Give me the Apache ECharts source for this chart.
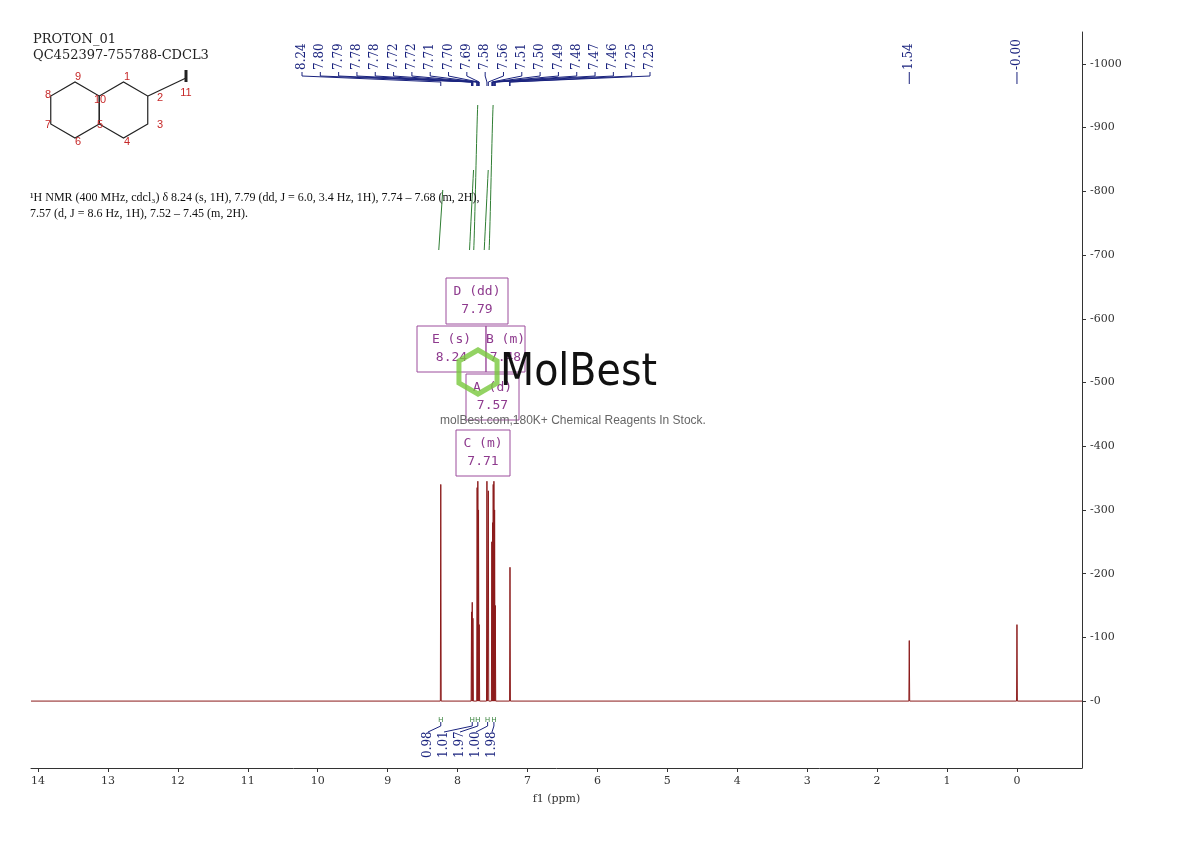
<!DOCTYPE html>
<html><head><meta charset="utf-8">
<script src="https://cdn.jsdelivr.net/npm/echarts@6/dist/echarts.min.js"></script>
<style>html,body{margin:0;padding:0;background:#fff}#c{width:1190px;height:841px}</style>
</head><body><div id="c"></div>
<script>
const peakPpm = [8.24,7.80,7.79,7.78,7.72,7.71,7.70,7.69,7.58,7.56,7.51,7.50,7.49,7.48,7.47,7.46,7.25,1.54,0.00];
const peakHeight = [340,140,155,130,335,345,300,120,345,330,250,280,340,345,300,150,210,95,120];
const labelTexts = ['8.24','7.80','7.79','7.78','7.78','7.72','7.72','7.71','7.70','7.69','7.58','7.56','7.51','7.50','7.49','7.48','7.47','7.46','7.25','7.25'];
const labelPpm = [8.24,7.80,7.79,7.785,7.78,7.725,7.72,7.71,7.70,7.69,7.58,7.56,7.51,7.50,7.49,7.48,7.47,7.46,7.255,7.25];
const singleLabels = ['1.54','-0.00'];
const singlePpm = [1.54,0.00];
const xTicks = [0,1,2,3,4,5,6,7,8,9,10,11,12,13,14];
const yTicks = [0,100,200,300,400,500,600,700,800,900,1000];
const integrals = ['0.98','1.01','1.97','1.00','1.98'];
const integralPpm = [8.24,7.79,7.71,7.57,7.48];

const pts = [[14.1,0]];
const order = peakPpm.map((p,i)=>[p,peakHeight[i]]).sort((a,b)=>b[0]-a[0]);
order.forEach(([p,h])=>{pts.push([p+0.006,0]);pts.push([p,h]);pts.push([p-0.006,0]);});
pts.push([-0.93,0]);

const chart = echarts.init(document.getElementById('c'));
const serif = 'DejaVu Serif';
chart.setOption({
  animation:false,
  grid:{left:31,right:108,top:32,bottom:73},
  xAxis:{type:'value',inverse:true,min:-0.93,max:14.1,
    name:'f1 (ppm)',nameLocation:'middle',nameGap:26,nameTextStyle:{fontFamily:serif,fontSize:11,color:'#333'},
    axisLine:{onZero:false,lineStyle:{color:'#333'}},splitLine:{show:false},
    axisTick:{customValues:xTicks,length:4,lineStyle:{color:'#333'}},
    axisLabel:{customValues:xTicks,fontFamily:serif,fontSize:11,color:'#333'}},
  yAxis:{type:'value',position:'right',min:-105,max:1050,
    axisLine:{show:true,onZero:false,lineStyle:{color:'#333'}},splitLine:{show:false},
    axisTick:{customValues:yTicks,length:4,lineStyle:{color:'#333'}},
    axisLabel:{customValues:yTicks,fontFamily:serif,fontSize:11,color:'#333',formatter:v=>'-'+v}},
  series:[{type:'line',data:pts,symbol:'none',lineStyle:{color:'#8b1a1a',width:1}}]
});

const g = [];
const px = (p,v)=>chart.convertToPixel({xAxisIndex:0,yAxisIndex:0},[p,v]);
const blue = '#1a237e';
const x0=302, dx=(650-302)/(labelTexts.length-1);
labelTexts.forEach((t,i)=>{
  const lx=x0+i*dx, tx=px(labelPpm[i],0)[0];
  g.push({type:'text',x:lx,y:70,rotation:Math.PI/2,style:{text:t,fontFamily:serif,fontSize:12,fill:blue,align:'left',verticalAlign:'middle'}});
  g.push({type:'polyline',shape:{points:[[lx,72],[lx,76],[tx,82],[tx,86]]},style:{stroke:blue,lineWidth:1,fill:null}});
});
singleLabels.forEach((t,i)=>{
  const lx=px(singlePpm[i],0)[0];
  g.push({type:'text',x:lx,y:70,rotation:Math.PI/2,style:{text:t,fontFamily:serif,fontSize:12,fill:blue,align:'left',verticalAlign:'middle'}});
  g.push({type:'line',shape:{x1:lx,y1:72,x2:lx,y2:84},style:{stroke:blue,lineWidth:1}});
});
integrals.forEach((t,i)=>{
  const lx=428+i*16, tx=px(integralPpm[i],0)[0];
  g.push({type:'text',x:lx,y:758,rotation:Math.PI/2,style:{text:t,fontFamily:serif,fontSize:12,fill:blue,align:'left',verticalAlign:'middle'}});
  g.push({type:'polyline',shape:{points:[[lx,732],[tx,726],[tx,722]]},style:{stroke:blue,lineWidth:1,fill:null}});
  g.push({type:'text',x:tx,y:720,style:{text:'H',fontSize:7,fill:'#2e7d32',align:'center',verticalAlign:'middle'}});
});
[[8.24,250,190],[7.80,250,170],[7.74,250,105],[7.59,250,170],[7.52,250,105]].forEach(([p,y1,y2])=>{
  const x=px(p,0)[0];
  g.push({type:'bezierCurve',shape:{x1:x-2,y1:y1,x2:x+2,y2:y2,cpx1:x-1,cpy1:y1-20,cpx2:x+1,cpy2:y2+20},style:{stroke:'#2e7d32',lineWidth:1,fill:null}});
});
g.push({type:'text',x:33,y:32,style:{text:'PROTON_01\nQC452397-755788-CDCL3',fontFamily:serif,fontSize:13,fill:'#222',lineHeight:16}});
g.push({type:'text',x:30,y:190,style:{text:'¹H NMR (400 MHz, cdcl₃) δ 8.24 (s, 1H), 7.79 (dd, J = 6.0, 3.4 Hz, 1H), 7.74 – 7.68 (m, 2H),\n7.57 (d, J = 8.6 Hz, 1H), 7.52 – 7.45 (m, 2H).',fontFamily:'Liberation Serif',fontSize:12,fill:'#111',lineHeight:16}});
const hex=(cx,cy,r)=>{const a=[];for(let k=0;k<6;k++){const t=Math.PI/6+k*Math.PI/3;a.push([cx+r*Math.cos(t),cy+r*Math.sin(t)]);}return a;};
g.push({type:'polygon',shape:{points:hex(75,110,28)},style:{stroke:'#222',fill:null,lineWidth:1.2}});
g.push({type:'polygon',shape:{points:hex(123.5,110,28)},style:{stroke:'#222',fill:null,lineWidth:1.2}});
g.push({type:'line',shape:{x1:148,y1:96,x2:186,y2:78},style:{stroke:'#222',lineWidth:1.2}});
g.push({type:'line',shape:{x1:186,y1:70,x2:186,y2:82},style:{stroke:'#222',lineWidth:3}});
[['9',78,77],['8',48,95],['7',48,125],['6',78,142],['10',100,100],['5',100,125],['1',127,77],['2',160,98],['3',160,125],['4',127,142],['11',186,93]].forEach(([t,x,y])=>g.push({type:'text',x,y,style:{text:t,fontSize:11,fill:'#c62828',fontFamily:'Liberation Sans',align:'center',verticalAlign:'middle'}}));
const box=(x,y,w,h,t)=>{g.push({type:'rect',shape:{x,y,width:w,height:h},style:{stroke:'#9c4d9c',fill:'rgba(255,255,255,0.3)',lineWidth:1}});g.push({type:'text',x:x+w/2,y:y+h/2,style:{text:t,fontFamily:'DejaVu Sans Mono',fontSize:13,fill:'#8e3a8e',align:'center',verticalAlign:'middle',lineHeight:18}});};
box(446,278,62,46,'D (dd)\n7.79');
box(417,326,69,46,'E (s)\n8.24');
box(486,326,39,46,'B (m)\n7.48');
box(466,374,53,46,'A (d)\n7.57');
box(456,430,54,46,'C (m)\n7.71');
g.push({type:'polygon',shape:{points:hex(478,372,22)},style:{stroke:'rgba(120,200,60,0.8)',fill:null,lineWidth:5}});
g.push({type:'text',x:500,y:374,style:{text:'MolBest',fontFamily:'DejaVu Sans Condensed',fontSize:44,fill:'#111',verticalAlign:'middle'}});
g.push({type:'text',x:573,y:421,style:{text:'molBest.com,180K+ Chemical Reagents In Stock.',fontFamily:'Liberation Sans',fontSize:12,fill:'#666',align:'center',verticalAlign:'middle'}});
chart.setOption({graphic:g});
</script></body></html>
